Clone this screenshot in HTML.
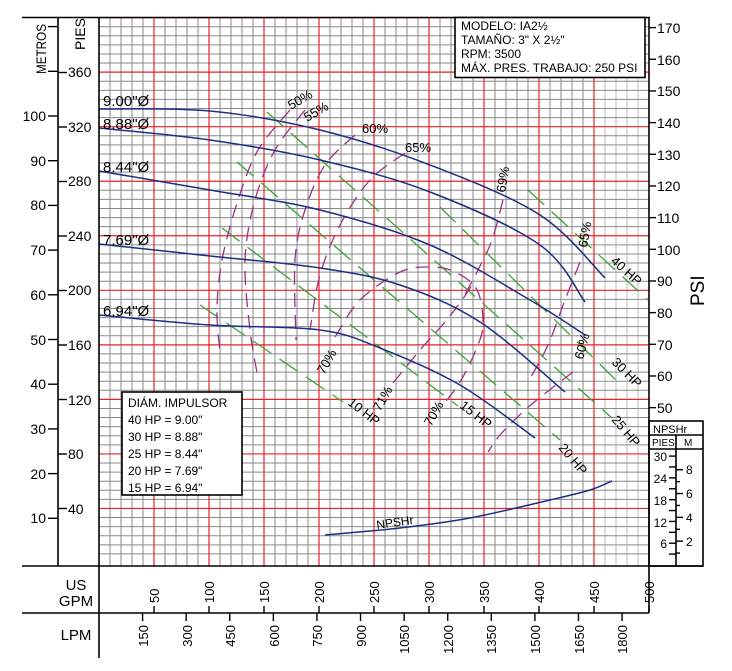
<!DOCTYPE html>
<html><head><meta charset="utf-8"><style>
html,body{margin:0;padding:0;background:#fff}
svg{display:block}
text{font-family:"Liberation Sans",sans-serif;fill:#000}
</style></head><body>
<svg id="s" width="732" height="671" viewBox="0 0 732 671" xmlns="http://www.w3.org/2000/svg">
<g id="grid"></g>
<g id="curves"></g>
<g id="axes" stroke="#000" stroke-width="1.6" fill="none">
<line x1="22" y1="17.5" x2="650" y2="17.5"/>
<line x1="58" y1="17.5" x2="58" y2="566"/>
<line x1="99" y1="17.5" x2="99" y2="658"/>
<line x1="649" y1="17.5" x2="649" y2="613"/>
<line x1="22" y1="566" x2="703" y2="566"/>
<line x1="22" y1="613" x2="649" y2="613"/>
<rect x="649" y="421" width="54" height="145"/>
<line x1="649" y1="435" x2="703" y2="435"/>
<line x1="649" y1="449" x2="703" y2="449"/>
<line x1="676" y1="435" x2="676" y2="566"/>
<rect x="455" y="17.5" width="190" height="60" fill="#fff"/>
<rect x="122" y="392" width="120" height="103" fill="#fff"/>
</g>
<g id="ticks" stroke="#000" stroke-width="1.4"></g>
<g font-size="13">
<text x="461" y="30" font-size="12">MODELO: IA2½</text>
<text x="461" y="44" font-size="12">TAMAÑO: 3" X 2½"</text>
<text x="461" y="58" font-size="12">RPM: 3500</text>
<text x="461" y="72" font-size="12">MÁX. PRES. TRABAJO: 250 PSI</text>
<text x="128" y="407" font-size="12">DIÁM. IMPULSOR</text>
<text x="128" y="424" font-size="12">40 HP = 9.00"</text>
<text x="128" y="441" font-size="12">30 HP = 8.88"</text>
<text x="128" y="458" font-size="12">25 HP = 8.44"</text>
<text x="128" y="475" font-size="12">20 HP = 7.69"</text>
<text x="128" y="492" font-size="12">15 HP = 6.94"</text>
<g font-size="15">
<text x="103" y="106">9.00"Ø</text>
<text x="103" y="129">8.88"Ø</text>
<text x="103" y="172">8.44"Ø</text>
<text x="103" y="245">7.69"Ø</text>
<text x="103" y="316">6.94"Ø</text>
</g>
<text transform="translate(46,74) rotate(-90)" font-size="14" textLength="50" lengthAdjust="spacingAndGlyphs">METROS</text>
<text transform="translate(85,50) rotate(-90)" font-size="14">PIES</text>
<text transform="translate(704,306) rotate(-90)" font-size="19">PSI</text>
<text x="76" y="590" font-size="15" text-anchor="middle">US</text>
<text x="76" y="606" font-size="15" text-anchor="middle">GPM</text>
<text x="76" y="640" font-size="15" text-anchor="middle">LPM</text>
<text x="653" y="433" font-size="11">NPSHr</text>
<text x="652" y="446" font-size="10">PIES</text>
<text x="684" y="446" font-size="10">M</text>
<text transform="translate(377,529) rotate(-8)" font-size="12">NPSHr</text>
<g font-size="13">
<text transform="translate(291,110) rotate(-30)">50%</text>
<text transform="translate(307,122) rotate(-30)">55%</text>
<text x="362" y="133">60%</text>
<text x="405" y="152">65%</text>
<text transform="translate(505,193) rotate(-80)">69%</text>
<text transform="translate(587,248) rotate(-80)">65%</text>
<text transform="translate(583,360) rotate(-75)">60%</text>
<text transform="translate(324,375) rotate(-60)">70%</text>
<text transform="translate(380,412) rotate(-60)">71%</text>
<text transform="translate(431,427) rotate(-60)">70%</text>
<text transform="translate(347,404) rotate(38)">10 HP</text>
<text transform="translate(459,407) rotate(38)">15 HP</text>
<text transform="translate(558,448) rotate(50)">20 HP</text>
<text transform="translate(611,420) rotate(50)">25 HP</text>
<text transform="translate(611,363) rotate(45)">30 HP</text>
<text transform="translate(610,262) rotate(42)">40 HP</text>
</g>
<g font-size="14">
<text x="46" y="121" text-anchor="end">100</text>
<text x="46" y="166" text-anchor="end">90</text>
<text x="46" y="210" text-anchor="end">80</text>
<text x="46" y="255" text-anchor="end">70</text>
<text x="46" y="300" text-anchor="end">60</text>
<text x="46" y="345" text-anchor="end">50</text>
<text x="46" y="389" text-anchor="end">40</text>
<text x="46" y="434" text-anchor="end">30</text>
<text x="46" y="479" text-anchor="end">20</text>
<text x="46" y="523" text-anchor="end">10</text>
<text x="68" y="77">360</text><text x="68" y="132">320</text><text x="68" y="186">280</text>
<text x="68" y="241">240</text><text x="68" y="295">200</text><text x="68" y="350">160</text>
<text x="68" y="405">120</text><text x="68" y="459">80</text><text x="68" y="514">40</text>
<text x="657" y="33">170</text><text x="657" y="65">160</text><text x="657" y="96">150</text>
<text x="657" y="128">140</text><text x="657" y="160">130</text><text x="657" y="191">120</text>
<text x="657" y="223">110</text><text x="657" y="255">100</text><text x="657" y="286">90</text>
<text x="657" y="318">80</text><text x="657" y="350">70</text><text x="657" y="381">60</text>
<text x="657" y="413">50</text>
</g>
<g font-size="12">
<text x="667" y="461" text-anchor="end">30</text><text x="667" y="483" text-anchor="end">24</text>
<text x="667" y="505" text-anchor="end">18</text><text x="667" y="527" text-anchor="end">12</text>
<text x="667" y="548" text-anchor="end">6</text>
<text x="686" y="474">8</text><text x="686" y="498">6</text><text x="686" y="522">4</text><text x="686" y="546">2</text>
</g>
<g font-size="13">
<text transform="translate(159,603) rotate(-90)">50</text>
<text transform="translate(214,603) rotate(-90)">100</text>
<text transform="translate(269,603) rotate(-90)">150</text>
<text transform="translate(324,603) rotate(-90)">200</text>
<text transform="translate(379,603) rotate(-90)">250</text>
<text transform="translate(434,603) rotate(-90)">300</text>
<text transform="translate(489,603) rotate(-90)">350</text>
<text transform="translate(544,603) rotate(-90)">400</text>
<text transform="translate(599,603) rotate(-90)">450</text>
<text transform="translate(654,603) rotate(-90)">500</text>
<text transform="translate(148,625) rotate(-90)" text-anchor="end">150</text>
<text transform="translate(192,625) rotate(-90)" text-anchor="end">300</text>
<text transform="translate(235,625) rotate(-90)" text-anchor="end">450</text>
<text transform="translate(279,625) rotate(-90)" text-anchor="end">600</text>
<text transform="translate(322,625) rotate(-90)" text-anchor="end">750</text>
<text transform="translate(366,625) rotate(-90)" text-anchor="end">900</text>
<text transform="translate(409,625) rotate(-90)" text-anchor="end">1050</text>
<text transform="translate(453,625) rotate(-90)" text-anchor="end">1200</text>
<text transform="translate(496,625) rotate(-90)" text-anchor="end">1350</text>
<text transform="translate(540,625) rotate(-90)" text-anchor="end">1500</text>
<text transform="translate(584,625) rotate(-90)" text-anchor="end">1650</text>
<text transform="translate(627,625) rotate(-90)" text-anchor="end">1800</text>
</g>
</g>
</svg>
<script>
var NS="http://www.w3.org/2000/svg";
function el(p,t,a){var e=document.createElementNS(NS,t);for(var k in a)e.setAttribute(k,a[k]);document.getElementById(p).appendChild(e);return e;}
for(var i=0;i<=50;i++){var x=99+i*11;if(i%5==0)continue;el("grid","line",{x1:x,y1:17.5,x2:x,y2:566,stroke:(i>=46&&i<=49)?"#bbb":"#8a8a8a","stroke-width":1});}
for(var j=0;j<=60;j++){var y=563-j*9.09;if(j%6==0)continue;el("grid","line",{x1:99,y1:y,x2:649,y2:y,stroke:"#8a8a8a","stroke-width":1});}
for(var i=5;i<50;i+=5){var x=99+i*11;el("grid","line",{x1:x,y1:17.5,x2:x,y2:566,stroke:"#e8222a","stroke-width":1.2});}
for(var j=6;j<=60;j+=6){var y=563-j*9.09;el("grid","line",{x1:99,y1:y,x2:649,y2:y,stroke:"#e8222a","stroke-width":1.2});}
function cr(p){var d="M"+p[0][0]+","+p[0][1];for(var i=0;i<p.length-1;i++){var a=p[i-1]||p[i],b=p[i],c=p[i+1],e=p[i+2]||c;d+=" C"+(b[0]+(c[0]-a[0])/6)+","+(b[1]+(c[1]-a[1])/6)+" "+(c[0]-(e[0]-b[0])/6)+","+(c[1]-(e[1]-b[1])/6)+" "+c[0]+","+c[1];}return d;}
function cv(p,col,w,dash){var a={d:cr(p),fill:"none",stroke:col,"stroke-width":w};if(dash)a["stroke-dasharray"]=dash;el("curves","path",a);}
var G="#3aa335",GD="22,10";
[[[528,190],[648,300]],[[440,207],[623,387]],[[267,112],[612,418]],[[237,162],[560,440]],[[222,228],[458,406]],[[200,305],[343,402]]].forEach(function(l){cv(l,G,1.3,GD);});
var P="#a0307f",PD="14,8";
[[[290,110],[258,150],[238,200],[222,260],[217,310],[220,352]],
 [[305,110],[275,150],[255,200],[245,260],[250,330],[258,378]],
 [[355,135],[325,165],[305,210],[295,260],[296,340]],
 [[405,153],[370,180],[340,225],[320,275],[310,330]],
 [[335,337],[360,300],[400,272],[430,267],[455,272],[477,290],[483,325],[475,352],[460,382],[443,405]],
 [[393,383],[420,350],[445,322],[462,300],[472,285]],
 [[503,200],[492,240],[478,270],[462,300]],
 [[580,262],[565,300],[548,345],[528,382]],
 [[573,372],[552,388],[525,410],[500,435],[488,452]]].forEach(function(l){cv(l,P,1.3,PD);});
var B="#1c2f86";
cv([[99,109],[210,111],[320,130],[430,165],[540,215],[605,278]],B,1.5);
cv([[99,128],[210,140],[320,160],[430,192],[540,245],[585,302]],B,1.5);
cv([[99,171],[210,190],[320,210],[430,245],[530,300],[585,335]],B,1.5);
cv([[99,244],[210,256],[320,268],[400,285],[480,322],[565,392]],B,1.5);
cv([[99,315],[210,325],[320,330],[380,348],[460,385],[535,438]],B,1.5);
cv([[325,535],[400,528],[470,518],[550,500],[590,490],[612,481]],B,1.5);
function tk(x1,y1,x2,y2){el("ticks","line",{x1:x1,y1:y1,x2:x2,y2:y2});}
for(var m=10;m<=120;m+=10){var y=563-m*4.47;tk(48,y,58,y);}
for(var f=40;f<=360;f+=40){var y=563-f*1.3625;tk(58,y,67,y);}
for(var p=50;p<=170;p+=10){var y=566-p*3.167;tk(649,y,656,y);}
for(var g=50;g<=500;g+=50){var x=99+g*1.1;tk(x,606,x,613);}
for(var L=150;L<=1800;L+=150){var x=99+L*1.1/3.7854;tk(x,613,x,621);}
for(var f=3;f<=30;f+=3){var y=565-f*3.63;tk(669,y,676,y);}
for(var m=1;m<=8;m++){var y=565-m*11.91;tk(676,y,m%2?680:683,y);}
</script>
</body></html>
